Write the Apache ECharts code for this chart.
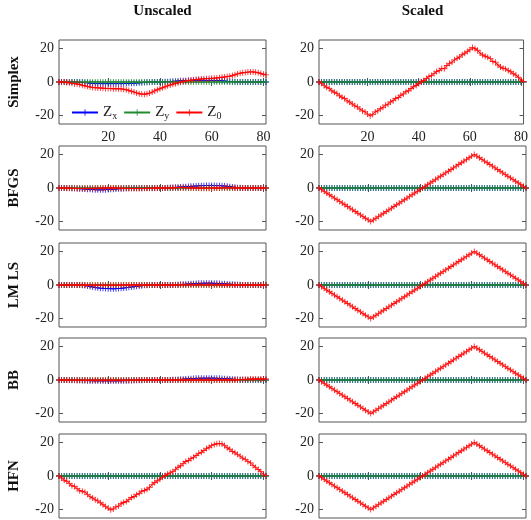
<!DOCTYPE html>
<html>
<head>
<meta charset="utf-8">
<script src="https://cdn.jsdelivr.net/npm/echarts@6/dist/echarts.min.js"></script>
<style>
  html, body { margin: 0; padding: 0; background: #fff; }
  #chart { width: 531px; height: 520px; }
</style>
</head>
<body>
<div id="chart"></div>
<script>
// x runs 1..81 (index + 1)
const rowNames = ['Simplex', 'BFGS', 'LM LS', 'BB', 'HFN'];
const colNames = ['Unscaled', 'Scaled'];
const seriesNames = ['Zx', 'Zy', 'Z0'];
const xTicks = [20, 40, 60, 80];
const yTicks = [-20, 0, 20];

const zero = [
  0,0,0,0,0,0,0,0,0,0,
  0,0,0,0,0,0,0,0,0,0,
  0,0,0,0,0,0,0,0,0,0,
  0,0,0,0,0,0,0,0,0,0,
  0,0,0,0,0,0,0,0,0,0,
  0,0,0,0,0,0,0,0,0,0,
  0,0,0,0,0,0,0,0,0,0,
  0,0,0,0,0,0,0,0,0,0,
  0
];

// scaled runs: triangle
const tri = [
  0,-1,-2,-3,-4,-5,-6,-7,-8,-9,
  -10,-11,-12,-13,-14,-15,-16,-17,-18,-19,
  -20,-19,-18,-17,-16,-15,-14,-13,-12,-11,
  -10,-9,-8,-7,-6,-5,-4,-3,-2,-1,
  0,1,2,3,4,5,6,7,8,9,
  10,11,12,13,14,15,16,17,18,19,
  20,19,18,17,16,15,14,13,12,11,
  10,9,8,7,6,5,4,3,2,1,
  0
];

const simplexScaledZ0 = [
  0,-0.8,-2.2,-3.1,-3.8,-5.2,-6.1,-6.8,-8.2,-9.1,
  -9.8,-11.2,-11.9,-13.1,-14.2,-14.8,-16.1,-17.2,-17.8,-19.1,
  -20.2,-19.3,-17.8,-17.2,-15.9,-15.1,-13.8,-13.2,-11.9,-11.1,
  -9.8,-9.2,-7.9,-7.1,-5.8,-5.2,-3.9,-2.8,-2.1,-0.9,
  0.2,0.9,2.1,3.2,3.8,5.1,6.2,6.8,8.1,7.9,
  9.8,11.1,11.8,13.2,14.1,14.9,16.2,17.1,18.1,19.2,
  20.6,19.8,18.9,17.2,16.1,15.3,14.8,13.9,12.2,11.8,
  10.1,8.9,8.2,7.8,6.9,6.1,4.9,4.1,2.8,1.2,
  0.3
];

const simplexZx = [
  0,0,0,0,0,0,0,0,-0.1,-0.2,
  -0.3,-0.5,-0.7,-0.8,-0.9,-1,-1,-1,-1,-1,
  -1,-1,-1,-1,-1,-0.9,-0.9,-0.8,-0.8,-0.7,
  -0.6,-0.5,-0.4,-0.3,-0.2,-0.1,0,0,0,0,
  0,0.1,0.2,0.3,0.4,0.5,0.6,0.7,0.8,0.8,
  0.9,0.9,0.9,1,1,1,1,1,1,1,
  0.9,0.9,0.8,0.7,0.6,0.4,0.3,0.2,0.1,0,
  0,0,0,0,0,0,0,0,0,0,
  0
];
const simplexZ0 = [
  0,0,0,-0.3,-0.5,-0.8,-1,-1.2,-1.5,-2,
  -2.3,-2.6,-3,-3.2,-3.4,-3.5,-3.6,-3.7,-3.8,-3.8,
  -3.9,-4,-4,-4,-4.1,-4.3,-4.6,-5,-5.5,-6,
  -6.5,-7,-7.2,-7.3,-7,-6.6,-6,-5.3,-4.6,-4,
  -3.4,-2.8,-2.3,-1.8,-1.3,-0.9,-0.5,-0.1,0.3,0.6,
  0.9,1.1,1.3,1.5,1.6,1.8,1.9,2,2.1,2.2,
  2.3,2.4,2.6,2.8,3,3.2,3.4,3.8,4.3,4.8,
  5.2,5.5,5.7,5.9,6,6,5.8,5.5,5,4.6,
  4.2
];

const bfgsZx = [
  0,0,0,0,0,-0.1,-0.2,-0.3,-0.4,-0.5,
  -0.6,-0.7,-0.8,-0.9,-1,-1.1,-1.1,-1.1,-1,-0.9,
  -0.8,-0.7,-0.6,-0.5,-0.4,-0.3,-0.2,-0.1,0,0,
  0,0,0,0,0,0,0,0,0,0,
  0,0,0.1,0.2,0.3,0.4,0.5,0.6,0.7,0.8,
  0.9,1,1.1,1.2,1.3,1.4,1.4,1.5,1.5,1.5,
  1.5,1.4,1.4,1.3,1.2,1,0.8,0.6,0.4,0.2,
  0.1,0,0,0,0,0,0,0,0,0,
  0
];
const bfgsZ0 = [
  0,0,0,-0.1,-0.1,-0.2,-0.2,-0.3,-0.3,-0.3,
  -0.3,-0.3,-0.2,-0.2,-0.2,-0.1,-0.1,-0.1,0,0,
  0,0,0,-0.1,-0.1,-0.2,-0.2,-0.2,-0.3,-0.3,
  -0.3,-0.3,-0.3,-0.2,-0.2,-0.2,-0.1,-0.1,0,0,
  0,0,0,0.1,0.1,0.1,0.2,0.2,0.2,0.2,
  0.1,0.1,0,0,0,-0.1,-0.1,-0.1,-0.1,-0.1,
  0,0,0,0.1,0.1,0.1,0.1,0.1,0,0,
  0,0,0,0,0,0,0,0,0,0,
  0
];

const lmlsZx = [
  0,0,0,0,0,0,0,0,0,-0.1,
  -0.3,-0.6,-0.9,-1.2,-1.5,-1.7,-1.9,-2,-2.1,-2.2,
  -2.2,-2.3,-2.2,-2.1,-2,-1.8,-1.6,-1.4,-1.2,-1,
  -0.8,-0.6,-0.4,-0.2,-0.1,0,0,0,0,0,
  0,0,0,0,0,0.1,0.2,0.3,0.4,0.5,
  0.6,0.7,0.8,0.9,1,1,1.1,1.1,1.1,1.1,
  1,1,0.9,0.8,0.7,0.6,0.5,0.4,0.3,0.2,
  0.1,0,0,0,0,0,0,0,0,0,
  0
];
const lmlsZ0 = [
  0,0,0,0,0,0,0,0,0,0,
  0,-0.1,-0.1,-0.1,-0.1,-0.1,-0.1,-0.1,-0.1,-0.1,
  -0.1,-0.1,-0.1,-0.1,-0.1,0,0,0,0,0,
  0,0,0,0,0,0,0,0,0,0,
  0,0,0,0,0,0,0,0.1,0.1,0.1,
  0.1,0.1,0.1,0.1,0.1,0.1,0.1,0.1,0.1,0.1,
  0.1,0.1,0.1,0,0,0,0,0,0,0,
  0,0,0,0,0,0,0,0,0,0,
  0
];

const bbZx = [
  0,0,0,0,0,0,0,-0.1,-0.2,-0.3,
  -0.3,-0.4,-0.4,-0.5,-0.5,-0.5,-0.5,-0.5,-0.5,-0.5,
  -0.5,-0.5,-0.5,-0.5,-0.5,-0.4,-0.4,-0.3,-0.3,-0.2,
  -0.2,-0.1,-0.1,0,0,0,0,0,0,0,
  0,0,0,0,0.1,0.2,0.3,0.4,0.5,0.6,
  0.7,0.8,0.9,1,1,1.1,1.1,1.1,1.1,1.1,
  1.1,1,1,0.9,0.8,0.7,0.6,0.5,0.4,0.3,
  0.2,0.1,0,0,0,0,0,0,0,0,
  0
];
const bbZ0 = [
  0,0,0,0,-0.1,-0.1,-0.1,-0.1,-0.1,-0.1,
  -0.1,-0.1,-0.1,-0.1,-0.1,-0.1,-0.1,-0.1,-0.1,-0.1,
  -0.1,-0.1,-0.1,-0.1,-0.1,-0.1,-0.1,-0.1,-0.1,-0.1,
  0,0,0,0,0,0,0,0,0,0,
  0,0,0,0,0,0,0,0,0,0,
  0,0,0,0,0,0,0,0,0,0,
  0,0,0,0,0,0,0,0,0,0.1,
  0.2,0.3,0.4,0.5,0.6,0.6,0.6,0.6,0.6,0.6,
  0.6
];

const hfnZ0 = [
  0,-1.2,-2.5,-3.1,-4.4,-5.8,-6.2,-7.5,-8.8,-9.1,
  -9.6,-10.9,-12.3,-13.1,-14.2,-14.8,-15.9,-17.1,-18.2,-19.1,
  -20.1,-19.6,-18.4,-17.9,-16.5,-15.8,-15.2,-14.1,-12.8,-12.2,
  -11.1,-10.3,-9.1,-8.6,-7.9,-6.8,-5.1,-3.9,-2.8,-1.9,
  -0.8,0.3,1.2,1.9,2.6,3.8,5.2,6.1,7.5,8.6,
  9.2,10.3,11.1,12.2,13.5,14.1,15.2,16.3,17.1,18.2,
  18.8,19.2,19.3,19.1,18.2,16.8,15.9,14.6,13.8,12.9,
  11.8,10.6,9.9,8.7,7.8,6.3,5.1,3.9,2.6,1.1,
  0.2
];

// [row][col] -> [Zx, Zy, Z0]
const panels = [
  [[simplexZx, zero, simplexZ0], [zero, zero, simplexScaledZ0]],
  [[bfgsZx, zero, bfgsZ0], [zero, zero, tri]],
  [[lmlsZx, zero, lmlsZ0], [zero, zero, tri]],
  [[bbZx, zero, bbZ0], [zero, zero, tri]],
  [[zero, zero, hfnZ0], [zero, zero, tri]]
];

const colors = ['#0000ff', '#1f8a2e', '#ff0000'];
const plus = 'path://M3,0h1v3h3v1h-3v3h-1v-3h-3v-1h3z';
const serif = 'Liberation Serif';

const colLeft = [59, 319];
const rowTop = [40, 146, 243, 338, 434];
const plotW = 207, plotH = 84;

const grids = [], xAxes = [], yAxes = [], series = [], graphics = [];

panels.forEach((row, r) => {
    row.forEach((set, c) => {
        const gi = grids.length;
        grids.push({
            left: colLeft[c], top: rowTop[r], width: plotW, height: plotH,
            show: true, borderColor: '#555', borderWidth: 1, backgroundColor: '#fff'
        });
        ['bottom', 'top'].forEach(pos => {
            xAxes.push({
                type: 'value', gridIndex: gi, position: pos, min: 1, max: 81,
                axisLine: { show: false },
                splitLine: { show: false },
                axisTick: { show: true, inside: true, length: 4, customValues: xTicks, lineStyle: { color: '#555' } },
                axisLabel: {
                    show: pos === 'bottom' && r === 0, customValues: xTicks,
                    fontFamily: serif, fontSize: 14, color: '#222', margin: 6
                }
            });
        });
        ['left', 'right'].forEach(pos => {
            yAxes.push({
                type: 'value', gridIndex: gi, position: pos, min: -25, max: 25,
                axisLine: { show: false },
                splitLine: { show: false },
                axisTick: { show: true, inside: true, length: 4, customValues: yTicks, lineStyle: { color: '#555' } },
                axisLabel: {
                    show: pos === 'left', customValues: yTicks,
                    fontFamily: serif, fontSize: 14, color: '#222', margin: 5,
                    formatter: v => (v < 0 ? '-' + Math.abs(v) : '' + v)
                }
            });
        });
        set.forEach((vals, k) => {
            series.push({
                name: seriesNames[k],
                type: 'line',
                xAxisIndex: gi * 2,
                yAxisIndex: gi * 2,
                data: vals.map((v, i) => [i + 1, v]),
                symbol: plus,
                symbolSize: 6,
                showSymbol: true,
                clip: false,
                lineStyle: { width: 1, color: colors[k] },
                itemStyle: { color: colors[k], opacity: 0.85 },
                z: 2 + k,
                silent: true,
                animation: false
            });
        });
    });
    graphics.push({
        type: 'text', x: 14, y: rowTop[r] + plotH / 2, rotation: Math.PI / 2,
        style: {
            text: rowNames[r], font: 'bold 15px "' + serif + '"', fill: '#111',
            textAlign: 'center', textVerticalAlign: 'middle'
        }
    });
});

colNames.forEach((t, c) => {
    graphics.push({
        type: 'text', x: colLeft[c] + plotW / 2, y: 11,
        style: {
            text: t, font: 'bold 15px "' + serif + '"', fill: '#111',
            textAlign: 'center', textVerticalAlign: 'middle'
        }
    });
});

const chart = echarts.init(document.getElementById('chart'));
chart.setOption({
    animation: false,
    grid: grids,
    xAxis: xAxes,
    yAxis: yAxes,
    series: series,
    graphic: graphics,
    legend: {
        data: seriesNames,
        left: 66, top: 100,
        itemWidth: 26, itemHeight: 8, itemGap: 6,
        selectedMode: false,
        formatter: name => '{m|Z}{s|' + name.slice(1) + '}',
        textStyle: {
            fontFamily: serif, color: '#222',
            rich: {
                m: { fontFamily: serif, fontSize: 15, color: '#222' },
                s: { fontFamily: serif, fontSize: 10, color: '#222', padding: [7, 0, 0, 0] }
            }
        }
    }
});
</script>
</body>
</html>
